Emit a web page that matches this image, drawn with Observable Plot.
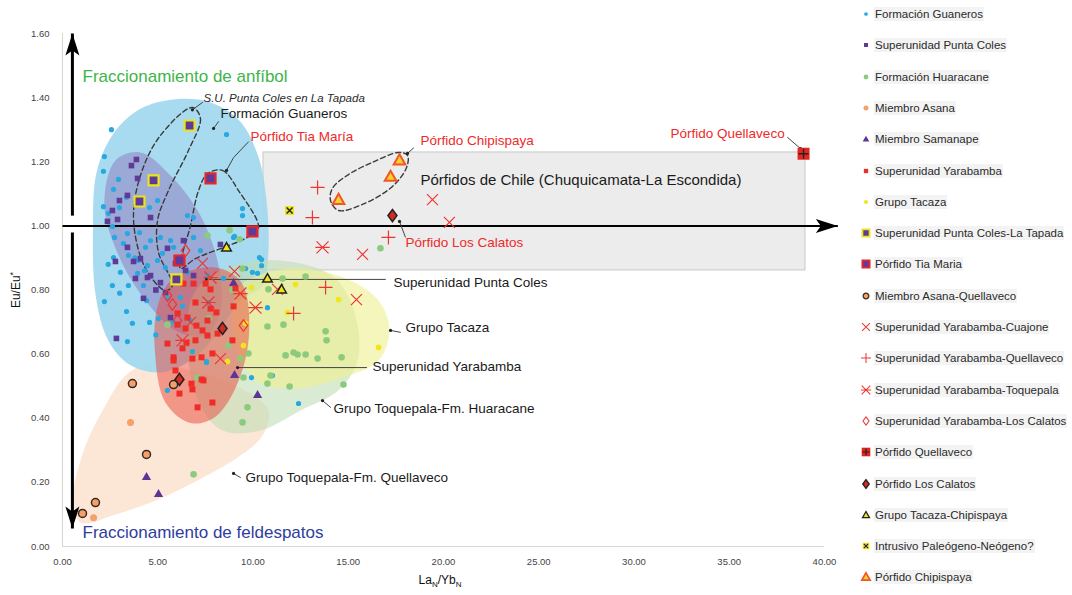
<!DOCTYPE html>
<html><head><meta charset="utf-8">
<script src="https://cdn.jsdelivr.net/npm/d3@7"></script>
<script src="https://cdn.jsdelivr.net/npm/@observablehq/plot@0.6"></script>
<style>
body{margin:0;background:#fff;font-family:"Liberation Sans",Arial,sans-serif;}
#wrap{position:relative;width:1072px;height:595px;overflow:hidden;background:#fff;}
#chart{position:absolute;left:0;top:0;}
#legend{position:absolute;left:858px;top:0;width:214px;height:595px;}
.li{position:absolute;left:0;height:18px;display:flex;align-items:center;white-space:nowrap;font-size:11.5px;color:#2a2a2a;}
.li svg{width:16px;height:16px;flex:none;overflow:visible;}
.li span{background:#f3f3f3;padding:1px 1px;}
</style></head><body>
<div id="wrap"><div id="chart"></div><div id="legend"></div></div>
<script>
// ---------------- DATA ----------------
const xTicks = [0, 5, 10, 15, 20, 25, 30, 35, 40];
const yTicks = [0, 0.2, 0.4, 0.6, 0.8, 1.0, 1.2, 1.4, 1.6];

const formacionGuaneros = [[2.57,1.30],[8.61,1.285],[2.20,1.216],[2.15,1.17],[2.94,1.145],[2.68,1.114],[3.36,1.089],[2.15,1.06],[2.99,1.057],[2.41,1.039],[4.99,1.079],[4.57,1.057],[6.56,1.032],[6.88,1.026],[9.45,1.054],[9.45,1.032],[2.62,0.998],[2.73,0.964],[3.41,0.976],[4.04,0.979],[4.62,0.954],[5.14,0.964],[5.67,0.954],[4.36,0.933],[3.20,0.945],[2.68,0.901],[3.46,0.908],[3.99,0.892],[4.46,0.876],[4.99,0.892],[5.25,0.914],[5.83,0.933],[10.34,0.901],[10.45,0.876],[6.88,0.964],[7.24,0.923],[8.98,0.964],[3.04,0.855],[3.94,0.852],[4.62,0.845],[2.62,0.814],[3.46,0.814],[4.25,0.814],[5.14,0.823],[6.56,0.855],[6.82,0.820],[7.61,0.845],[8.45,0.836],[9.61,0.867],[10.24,0.852],[2.20,0.764],[3.36,0.733],[3.67,0.696],[4.57,0.699],[5.04,0.711],[3.41,0.639],[4.41,0.767],[5.51,0.774],[6.19,0.777],[6.82,0.608],[7.56,0.577],[5.51,0.487],[9.92,0.527],[9.03,0.967],[10.45,0.895],[9.97,0.855],[7.66,0.761],[6.72,0.705],[10.76,0.745],[7.56,0.574],[12.39,0.446],[11.02,0.533],[5.8,0.70],[6.3,0.75],[4.9,0.66],[3.0,0.79],[2.4,0.88],[3.8,0.90],[5.4,0.87],[4.3,0.86]];
const superunidadPuntaColes = [[3.88,1.207],[3.62,1.188],[3.94,1.148],[3.41,1.095],[2.99,1.079],[2.62,1.048],[2.36,1.014],[2.89,1.020],[4.62,1.026],[3.41,0.933],[2.78,0.889],[3.83,0.836],[4.46,0.839],[5.14,0.823],[5.51,0.930],[6.35,0.954],[5.93,0.883],[6.46,0.861],[6.88,0.845],[8.29,0.942],[2.83,0.649],[4.25,0.774],[5.41,0.792],[5.67,0.714],[4.62,0.845],[4.09,0.898],[4.9,0.80],[3.73,0.889]];
const formacionHuaracane = [[8.77,0.986],[7.61,0.970],[9.29,0.958],[16.69,0.930],[9.45,0.867],[12.76,0.842],[11.55,0.836],[10.81,0.802],[10.76,0.686],[9.76,0.602],[11.60,0.692],[12.13,0.605],[12.34,0.599],[11.71,0.596],[12.76,0.599],[13.39,0.586],[13.81,0.671],[13.86,0.643],[14.65,0.590],[14.75,0.505],[11.92,0.499],[10.92,0.533],[10.76,0.508],[9.50,0.527],[9.71,0.434],[9.45,0.387],[7.09,0.527],[5.51,0.692],[7.66,0.711],[8.71,0.627],[9.34,0.586],[6.88,0.225],[8.9,0.80]];
const miembroAsana = [[3.57,0.387],[1.63,0.090]];
const miembroSamanape = [[4.41,0.218],[5.04,0.165],[9.03,0.536],[10.24,0.474],[8.98,0.823]];
const superunidadYarabamba = [[6.35,0.820],[6.88,0.820],[7.51,0.820],[7.77,0.802],[6.98,0.761],[7.77,0.742],[6.04,0.727],[6.56,0.714],[7.03,0.689],[7.61,0.705],[6.04,0.692],[6.46,0.680],[7.35,0.674],[5.51,0.633],[6.51,0.636],[6.98,0.643],[7.61,0.658],[8.14,0.664],[8.92,0.643],[5.83,0.590],[6.30,0.618],[6.82,0.586],[7.30,0.590],[7.87,0.602],[5.93,0.549],[6.77,0.508],[7.40,0.518],[6.14,0.477],[7.09,0.434],[7.87,0.449],[8.08,0.730],[9.08,0.805],[8.98,0.749],[7.30,0.521],[6.82,0.490],[5.83,0.580]];
const grupoTacaza = [[9.92,0.808],[12.23,0.817],[14.49,0.770],[11.81,0.730],[9.50,0.627],[8.66,0.577],[16.59,0.621],[9.61,0.696]];
const puntaColesLaTapada = [[6.67,1.313],[4.78,1.142],[4.04,1.076],[5.98,0.833]];
const porfidoTiaMaria = [[7.77,1.148],[9.97,0.983],[6.14,0.892]];
const asanaQuellaveco = [[3.67,0.508],[4.41,0.287],[1.73,0.137],[1.05,0.103],[5.83,0.505]];
const yarabambaCuajone = [[7.35,0.883],[9.03,0.858],[11.29,0.802],[6.72,0.699],[8.29,0.586],[15.43,0.770],[15.75,0.911],[19.42,1.082],[20.31,1.011]];
const yarabambaQuellaveco = [[13.39,1.120],[13.12,1.026],[17.11,0.964],[13.81,0.808],[12.13,0.727]];
const yarabambaToquepala = [[7.77,0.839],[9.34,0.789],[10.13,0.745],[7.66,0.761],[6.30,0.643],[13.65,0.933]];
const yarabambaLosCalatos = [[6.46,0.923],[5.51,0.783],[5.77,0.755],[6.04,0.705],[9.50,0.689]];
const porfidoQuellaveco = [[38.90,1.225]];
const porfidoLosCalatos = [[17.32,1.032],[8.40,0.680],[6.14,0.521]];
const tacazaChipispaya = [[8.61,0.933],[10.76,0.836],[11.50,0.802]];
const intrusivoPaleogenoNeogeno = [[11.92,1.048]];
const porfidoChipispaya = [[14.49,1.082],[17.22,1.154],[17.69,1.205]];

// shaded fields (outlines in data units)
const hullQuellavecoFm = [[0.94,0.075],[0.58,0.159],[1.21,0.315],[2.26,0.440],[3.31,0.533],[4.62,0.574],[6.72,0.549],[9.08,0.502],[10.81,0.424],[10.50,0.346],[9.34,0.284],[7.77,0.228],[5.14,0.150],[2.78,0.100]];
const hullGuaneros = [[5.93,1.395],[7.77,1.385],[9.34,1.325],[10.29,1.214],[10.71,1.079],[10.81,0.923],[10.50,0.814],[9.34,0.767],[8.03,0.658],[6.72,0.580],[5.14,0.543],[3.57,0.565],[2.41,0.642],[1.74,0.783],[1.60,0.986],[1.80,1.170],[2.70,1.290],[4.09,1.365]];
const hullPuntaColes = [[2.78,1.204],[4.09,1.229],[5.67,1.157],[7.24,1.032],[8.19,0.876],[8.29,0.736],[7.51,0.658],[5.93,0.674],[4.36,0.767],[2.94,0.908],[2.20,1.064]];
const hullHuaracane = [[6.98,0.798],[9.34,0.883],[12.23,0.886],[14.33,0.836],[15.38,0.720],[15.49,0.580],[14.49,0.487],[12.49,0.424],[10.39,0.362],[8.40,0.362],[7.24,0.440],[6.56,0.611]];
const hullTacaza = [[9.34,0.814],[11.97,0.867],[14.86,0.836],[16.59,0.767],[17.16,0.674],[16.59,0.580],[14.59,0.524],[12.23,0.493],[10.29,0.512],[9.24,0.596],[8.92,0.721]];
const hullYarabamba = [[5.80,0.835],[8.03,0.870],[9.40,0.823],[9.80,0.674],[9.25,0.518],[8.03,0.405],[6.72,0.385],[5.40,0.449],[4.85,0.611],[5.00,0.752]];
const chileBox = [[10.55, 0.861, 39.0, 1.229]];

// dashed enclosures
const loopLaTapada = [[6.82,1.369],[7.24,1.335],[6.61,1.235],[5.56,1.110],[4.99,1.017],[5.04,0.917],[5.77,0.814],[5.41,0.798],[4.36,0.867],[3.73,1.017],[4.09,1.157],[5.14,1.282]];
const loopTiaMaria = [[7.61,1.163],[8.40,1.173],[9.24,1.110],[10.29,0.992],[9.61,0.961],[8.61,0.936],[6.98,0.898],[6.19,0.867],[6.72,1.001],[7.14,1.110]];
const loopChipispaya = [[14.07,1.079],[14.49,1.048],[15.75,1.067],[17.32,1.123],[18.06,1.182],[18.11,1.220],[17.64,1.229],[16.27,1.198],[15.01,1.160],[14.17,1.117]];

// arrows [x1,y1,x2,y2]
const arrowsVertical = [[0.52,1.032,0.52,1.60],[0.52,0.979,0.52,0.056]];
const arrowsHorizontal = [[0,1.0,40.7,1.0]];

// leader lines (anchor first)
const leaders = [
  [[6.82,1.362],[7.35,1.385]],
  [[7.93,1.304],[8.19,1.325]],
  [[8.61,1.173],[8.98,1.213],[9.76,1.262]],
  [[18.11,1.226],[18.43,1.243]],
  [[38.74,1.241],[38.06,1.276]],
  [[17.69,1.014],[18.0,0.965]],
  [[7.56,0.833],[16.95,0.833]],
  [[17.22,0.674],[17.74,0.668]],
  [[9.19,0.558],[15.96,0.558]],
  [[13.65,0.455],[14.07,0.434]],
  [[8.98,0.228],[9.34,0.215]]
];

const labelsBlack = [
  {text:"Formación Guaneros", x:8.29, y:1.350},
  {text:"Superunidad Punta Coles", x:17.38, y:0.822},
  {text:"Grupo Tacaza", x:18.0, y:0.682},
  {text:"Superunidad Yarabamba", x:16.27, y:0.560},
  {text:"Grupo Toquepala-Fm. Huaracane", x:14.23, y:0.430},
  {text:"Grupo Toquepala-Fm. Quellaveco", x:9.61, y:0.215}
];
const labelsRed = [
  {text:"Pórfido Tia María", x:9.87, y:1.278},
  {text:"Pórfido Chipispaya", x:18.79, y:1.266},
  {text:"Pórfido Quellaveco", x:31.92, y:1.288},
  {text:"Pórfido Los Calatos", x:18.0, y:0.948}
];
const labelChile = [{text:"Pórfidos de Chile (Chuquicamata-La Escondida)", x:18.79, y:1.142}];
const labelLaTapada = [{text:"S.U. Punta Coles en La Tapada", x:7.40, y:1.397}];
const labelAnfibol = [{text:"Fraccionamiento de anfíbol", x:1.05, y:1.466}];
const labelFeldespatos = [{text:"Fraccionamiento de feldespatos", x:1.05, y:0.044}];

// ---------------- SYMBOLS ----------------
const R = s => Math.sqrt(s / Math.PI);
const SYM = {
  circle: {draw(c,s){const r=R(s); c.moveTo(r,0); c.arc(0,0,r,0,2*Math.PI);}},
  square: {draw(c,s){const r=R(s); c.rect(-r,-r,2*r,2*r);}},
  diamond: {draw(c,s){const r=R(s); c.moveTo(0,-r*1.15); c.lineTo(r*0.85,0); c.lineTo(0,r*1.15); c.lineTo(-r*0.85,0); c.closePath();}},
  triangle: {draw(c,s){const r=R(s); c.moveTo(0,-r); c.lineTo(r,r*0.75); c.lineTo(-r,r*0.75); c.closePath();}},
  times: {draw(c,s){const r=R(s); c.moveTo(-r,-r); c.lineTo(r,r); c.moveTo(r,-r); c.lineTo(-r,r);}},
  plus: {draw(c,s){const r=R(s); c.moveTo(-r,0); c.lineTo(r,0); c.moveTo(0,-r); c.lineTo(0,r);}},
  star: {draw(c,s){const r=R(s); c.moveTo(-r,-r); c.lineTo(r,r); c.moveTo(r,-r); c.lineTo(-r,r); c.moveTo(-r*1.2,0); c.lineTo(r*1.2,0);}},
  head: {draw(c,s){c.moveTo(0,0); c.lineTo(7,22); c.lineTo(0,17); c.lineTo(-7,22); c.closePath();}}
};

const RED = "#ee3530";
const series = [
  {name:"Formación Guaneros", data:formacionGuaneros, layers:[{s:"circle", r:2.6, fill:"#27a8e1"}]},
  {name:"Superunidad Punta Coles", data:superunidadPuntaColes, layers:[{s:"square", r:2.8, fill:"#603a97"}]},
  {name:"Formación Huaracane", data:formacionHuaracane, layers:[{s:"circle", r:3.3, fill:"#8ccb7e"}]},
  {name:"Miembro Asana", data:miembroAsana, layers:[{s:"circle", r:3.5, fill:"#f6a06c"}]},
  {name:"Miembro Samanape", data:miembroSamanape, layers:[{s:"triangle", r:4.6, fill:"#5e3595"}]},
  {name:"Superunidad Yarabamba", data:superunidadYarabamba, layers:[{s:"square", r:3, fill:"#ef2c27"}]},
  {name:"Grupo Tacaza", data:grupoTacaza, layers:[{s:"circle", r:2.8, fill:"#f2e61b"}]},
  {name:"Superunidad Punta Coles-La Tapada", data:puntaColesLaTapada, layers:[{s:"square", r:5, fill:"#5f3b98", stroke:"#ece31c", sw:2.2}]},
  {name:"Pórfido Tia Maria", data:porfidoTiaMaria, layers:[{s:"square", r:5, fill:"#5f3b98", stroke:"#e8262a", sw:2.2}]},
  {name:"Miembro Asana-Quellaveco", data:asanaQuellaveco, layers:[{s:"circle", r:4, fill:"#f4a06b", stroke:"#3a2a20", sw:1.5}]},
  {name:"Superunidad Yarabamba-Cuajone", data:yarabambaCuajone, layers:[{s:"times", r:5.5, stroke:RED, sw:1.2}]},
  {name:"Superunidad Yarabamba-Quellaveco", data:yarabambaQuellaveco, layers:[{s:"plus", r:7, stroke:RED, sw:1.2}]},
  {name:"Superunidad Yarabamba-Toquepala", data:yarabambaToquepala, layers:[{s:"star", r:6, stroke:RED, sw:1.2}]},
  {name:"Superunidad Yarabamba-Los Calatos", data:yarabambaLosCalatos, layers:[{s:"diamond", r:5, stroke:RED, sw:1.2}]},
  {name:"Pórfido Quellaveco", data:porfidoQuellaveco, layers:[{s:"square", r:6, fill:"#e52620"},{s:"plus", r:5, stroke:"#222", sw:1.4}]},
  {name:"Pórfido Los Calatos", data:porfidoLosCalatos, layers:[{s:"diamond", r:5.3, fill:"#d42a24", stroke:"#222", sw:1.5}]},
  {name:"Grupo Tacaza-Chipispaya", data:tacazaChipispaya, layers:[{s:"triangle", r:4.8, fill:"#f2e41a", stroke:"#222", sw:1.5}]},
  {name:"Intrusivo Paleógeno-Neógeno?", data:intrusivoPaleogenoNeogeno, layers:[{s:"square", r:4.5, fill:"#ece31c"},{s:"times", r:3, stroke:"#222", sw:1.4}]},
  {name:"Pórfido Chipispaya", data:porfidoChipispaya, layers:[{s:"triangle", r:5.8, fill:"#f7d22a", stroke:"#f2552a", sw:2}]}
];

// ---------------- MARKS ----------------
const px = d => d[0], py = d => d[1];
const blob = (data, fill, op) => Plot.line(data, {x:px, y:py, curve:"catmull-rom-closed", fill, fillOpacity:op, stroke:"none"});
const loop = data => Plot.line(data, {x:px, y:py, curve:"catmull-rom-closed", fill:"none", stroke:"#3a3a3a", strokeWidth:1.4, strokeDasharray:"5,3"});

const dotMarks = [];
for (const s of series) for (const L of s.layers) {
  dotMarks.push(Plot.dot(s.data, {x:px, y:py, symbol:SYM[L.s], r:L.r, fill:L.fill || "none", stroke:L.stroke || "none", strokeWidth:L.sw || 1}));
}
const textOpts = (fill, size, extra={}) => ({x:"x", y:"y", text:"text", textAnchor:"start", lineAnchor:"middle", fill, fontSize:size, fontFamily:"Liberation Sans, Arial, sans-serif", ...extra});

const chart = Plot.plot({
  width: 840, height: 595,
  marginLeft: 62, marginRight: 16, marginTop: 33, marginBottom: 49,
  x: {domain:[0,40]}, y: {domain:[0,1.6]},
  style: {fontFamily:"Liberation Sans, Arial, sans-serif", background:"#fff"},
  marks: [
    Plot.ruleX([0], {stroke:"#d6d6d6"}),
    Plot.ruleY([0], {stroke:"#d6d6d6"}),
    Plot.axisX({ticks:xTicks, tickFormat:d=>d.toFixed(2), tickSize:0, tickPadding:12, fontSize:9.5, fill:"#444", label:null}),
    Plot.axisY({ticks:yTicks, tickFormat:d=>d.toFixed(2), tickSize:0, tickPadding:13, fontSize:9.5, fill:"#444", label:null}),
    Plot.rect(chileBox, {x1:d=>d[0], y1:d=>d[1], x2:d=>d[2], y2:d=>d[3], fill:"#ececec", stroke:"#c8c8c8"}),
    blob(hullQuellavecoFm, "#fce2cf", 0.85),
    blob(hullGuaneros, "#a3d9ef", 0.95),
    blob(hullPuntaColes, "#8f80c2", 0.55),
    blob(hullHuaracane, "#c0ddb4", 0.6),
    blob(hullTacaza, "#eef08e", 0.6),
    blob(hullYarabamba, "#e8453a", 0.5),
    Plot.link(arrowsVertical, {x1:d=>d[0], y1:d=>d[1], x2:d=>d[2], y2:d=>d[3], stroke:"#000", strokeWidth:3}),
    Plot.link(arrowsHorizontal, {x1:d=>d[0], y1:d=>d[1], x2:d=>d[2], y2:d=>d[3], stroke:"#000", strokeWidth:2}),
    Plot.dot(arrowsVertical.concat(arrowsHorizontal), {x:d=>d[2], y:d=>d[3], symbol:SYM.head, r:5, fill:"#000", stroke:"none",
      rotate:d=>Math.atan2(d[2]-d[0], d[3]-d[1])*180/Math.PI}),
    loop(loopLaTapada), loop(loopTiaMaria), loop(loopChipispaya),
    ...leaders.map(l => Plot.line(l, {x:px, y:py, stroke:"#444", strokeWidth:1})),
    Plot.dot(leaders.map(l => l[0]), {x:px, y:py, r:1.6, fill:"#222"}),
    ...dotMarks,
    Plot.text(labelsBlack, textOpts("#1a1a1a", 13.5)),
    Plot.text(labelsRed, textOpts("#ee2a2a", 13.5)),
    Plot.text(labelChile, textOpts("#1a1a1a", 15)),
    Plot.text(labelLaTapada, textOpts("#2a2a2a", 11.5, {fontStyle:"italic", letterSpacing:"0.4px"})),
    Plot.text(labelAnfibol, textOpts("#3db54a", 17)),
    Plot.text(labelFeldespatos, textOpts("#2e3d9e", 17))
  ]
});
document.getElementById("chart").appendChild(chart);

// axis titles with sub/superscripts
const svg = d3.select(chart);
const yt = svg.append("text").attr("transform","translate(20,290) rotate(-90)").attr("text-anchor","middle")
  .attr("font-size",12).attr("fill","#111");
yt.append("tspan").text("Eu/Eu");
yt.append("tspan").attr("font-size",9).attr("dy","-4").text("*");
const xt = svg.append("text").attr("x",440).attr("y",584).attr("text-anchor","middle").attr("font-size",12).attr("fill","#111");
xt.append("tspan").text("La");
xt.append("tspan").attr("font-size",8).attr("dy","3").text("N");
xt.append("tspan").attr("dy","-3").text("/Yb");
xt.append("tspan").attr("font-size",8).attr("dy","3").text("N");

// ---------------- LEGEND ----------------
const leg = d3.select("#legend");
series.forEach((s, i) => {
  const cy = 14 + i * 31.3;
  const item = leg.append("div").attr("class","li").style("top", (cy - 9) + "px");
  const sv = item.append("svg").attr("viewBox","-8 -8 16 16");
  for (const L of s.layers) {
    const rr = L.r * 0.72;
    sv.append("path").attr("d", d3.symbol(SYM[L.s], rr * rr * Math.PI)())
      .attr("fill", L.fill || "none").attr("stroke", L.stroke || "none").attr("stroke-width", (L.sw || 1) * 0.85);
  }
  item.append("span").text(s.name);
});
</script>
</body></html>
